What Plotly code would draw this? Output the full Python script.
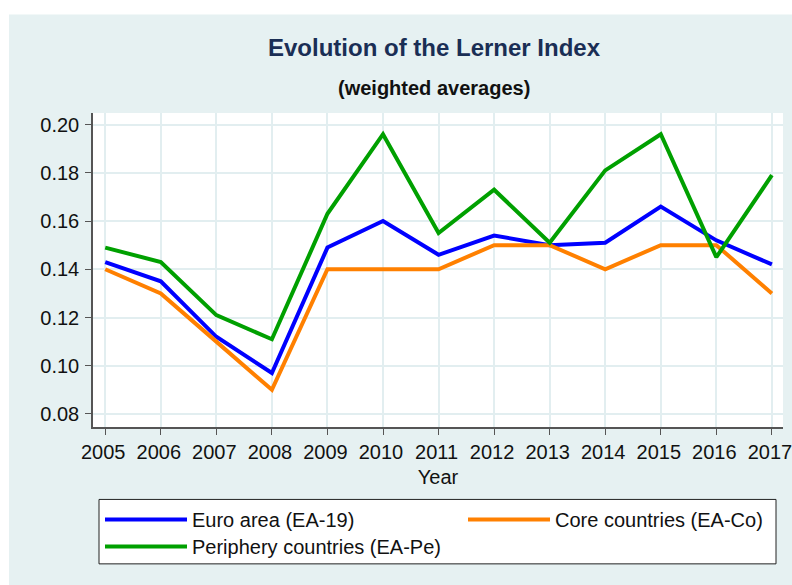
import plotly.graph_objects as go

years = list(range(2005, 2018))
euro_area = [0.143, 0.135, 0.112, 0.097, 0.149, 0.160, 0.146, 0.154, 0.150, 0.151, 0.166, 0.152, 0.142]
core = [0.140, 0.130, 0.110, 0.090, 0.140, 0.140, 0.140, 0.150, 0.150, 0.140, 0.150, 0.150, 0.130]
periphery = [0.149, 0.143, 0.121, 0.111, 0.163, 0.196, 0.155, 0.173, 0.151, 0.181, 0.196, 0.145, 0.179]
y_ticks = [0.08, 0.10, 0.12, 0.14, 0.16, 0.18, 0.20]

FONT = "Arial, Liberation Sans, sans-serif"
BG = "#e6f1f2"
GRID = "#e2eef0"

FIG_W, FIG_H = 792, 585
L, R, T, B = 93, 783, 112.7, 427
W, H = R - L, B - T


def px_x(p):
    return (p - L) / W


def px_y(p):
    return (B - p) / H


fig = go.Figure()
fig.add_trace(go.Scatter(x=years, y=euro_area, mode="lines", name="Euro area (EA-19)",
                         line=dict(color="#0000ff", width=4), legend="legend"))
fig.add_trace(go.Scatter(x=years, y=core, mode="lines", name="Core countries (EA-Co)",
                         line=dict(color="#ff8000", width=4), legend="legend2"))
fig.add_trace(go.Scatter(x=years, y=periphery, mode="lines", name="Periphery countries (EA-Pe)",
                         line=dict(color="#00a000", width=4), legend="legend3"))

shapes = [
    dict(type="rect", xref="paper", yref="paper", layer="below",
         x0=px_x(9), x1=px_x(800), y0=px_y(600), y1=px_y(14),
         fillcolor=BG, line=dict(width=0)),
    dict(type="rect", xref="paper", yref="paper", layer="below",
         x0=0, x1=1, y0=0, y1=1, fillcolor="white", line=dict(width=0)),
    dict(type="rect", xref="paper", yref="paper", layer="below",
         x0=px_x(99), x1=px_x(776), y0=px_y(564), y1=px_y(499.5),
         fillcolor="white", line=dict(color="#222222", width=1)),
]

annotations = [
    dict(text="<b>Evolution of the Lerner Index</b>", xref="paper", yref="paper",
         x=px_x(434), y=px_y(47.5), xanchor="center", yanchor="middle", showarrow=False,
         font=dict(family=FONT, size=24, color="#1a2e55")),
    dict(text="<b>(weighted averages)</b>", xref="paper", yref="paper",
         x=px_x(434), y=px_y(88), xanchor="center", yanchor="middle", showarrow=False,
         font=dict(family=FONT, size=20, color="#111111")),
]

legend_common = dict(xanchor="left", yanchor="top", bgcolor="rgba(0,0,0,0)",
                     borderwidth=0, orientation="v", itemwidth=82,
                     font=dict(family=FONT, size=20, color="#111111"))

fig.update_layout(
    width=FIG_W, height=FIG_H,
    margin=dict(l=L, r=FIG_W - R, t=T, b=FIG_H - B, pad=0, autoexpand=False),
    paper_bgcolor="white", plot_bgcolor="rgba(0,0,0,0)",
    font=dict(family=FONT, size=20, color="#111111"),
    shapes=shapes, annotations=annotations,
    showlegend=True,
    legend=dict(x=px_x(100), y=px_y(500), **legend_common),
    legend2=dict(x=px_x(463), y=px_y(500), **legend_common),
    legend3=dict(x=px_x(100), y=px_y(527), **legend_common),
    xaxis=dict(range=[2004.78, 2017.2], tickmode="array", tickvals=years,
               ticktext=[str(y) for y in years], showgrid=True, gridcolor=GRID, gridwidth=1.5,
               showline=True, linecolor="#555555", linewidth=1.5, ticks="outside",
               ticklen=6, tickcolor="#555555", zeroline=False, ticklabeloverflow="allow",
               ticklabelshift=-2, automargin=False,
               tickfont=dict(family=FONT, size=20, color="#111111"),
               title=dict(text="Year", standoff=8,
                          font=dict(family=FONT, size=20, color="#111111"))),
    yaxis=dict(range=[0.0746, 0.2048], tickmode="array", tickvals=y_ticks,
               ticktext=[f"{v:.2f}" for v in y_ticks], showgrid=True, gridcolor=GRID,
               gridwidth=1.5, showline=True, linecolor="#555555", linewidth=1.5,
               ticks="outside", ticklen=6, tickcolor="#555555", zeroline=False,
               ticklabelstandoff=2, automargin=False,
               tickfont=dict(family=FONT, size=20, color="#111111")),
)

fig.write_html("out.html", config={"displayModeBar": False},
               post_script="document.body.style.margin='0px';")
